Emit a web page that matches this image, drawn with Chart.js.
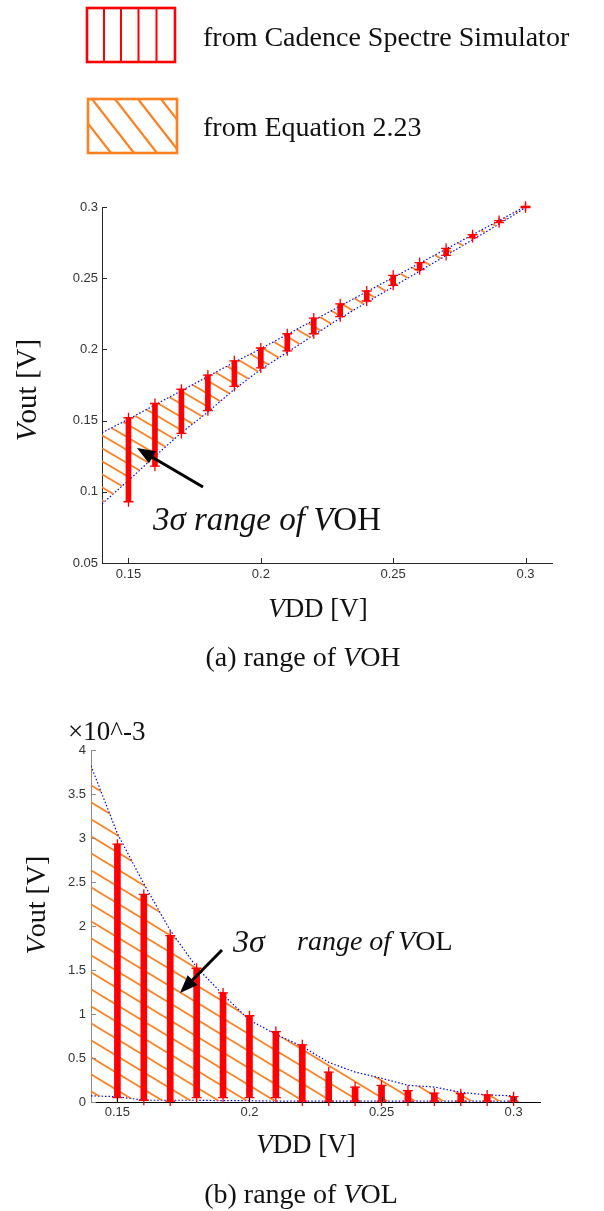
<!DOCTYPE html>
<html>
<head>
<meta charset="utf-8">
<script src="https://cdn.jsdelivr.net/npm/chart.js@4.4.1/dist/chart.umd.min.js"></script>
<style>
  html, body { margin: 0; padding: 0; background: #fff; }
  body { width: 604px; height: 1211px; position: relative; overflow: hidden; }
  canvas { position: absolute; left: 0; }
  #cA { top: 180px; }
  #cB { top: 730px; }
  #over { position: absolute; left: 0; top: 0; pointer-events: none; }
  #over text { font-family: "Liberation Serif", "Times New Roman", serif; fill: #111; }
</style>
</head>
<body>
<canvas id="cA" width="604" height="440"></canvas>
<canvas id="cB" width="604" height="420"></canvas>

<svg id="over" width="604" height="1211" xmlns="http://www.w3.org/2000/svg">
  <defs>
    <clipPath id="legClip"><rect x="88" y="99" width="89" height="54"/></clipPath>
  </defs>
  <!-- legend -->
  <rect x="87" y="8" width="88" height="54" fill="none" stroke="#ff0000" stroke-width="2.6"/>
  <g stroke="#ff0000" stroke-width="2">
    <line x1="104" y1="8" x2="104" y2="62"/>
    <line x1="121" y1="8" x2="121" y2="62"/>
    <line x1="138.5" y1="8" x2="138.5" y2="62"/>
    <line x1="156.5" y1="8" x2="156.5" y2="62"/>
  </g>
  <g clip-path="url(#legClip)" stroke="#ff8020" stroke-width="2.2">
    <line x1="46" y1="99" x2="88" y2="153"/>
    <line x1="69" y1="99" x2="111" y2="153"/>
    <line x1="92" y1="99" x2="134" y2="153"/>
    <line x1="115" y1="99" x2="157" y2="153"/>
    <line x1="138" y1="99" x2="180" y2="153"/>
    <line x1="161" y1="99" x2="203" y2="153"/>
  </g>
  <rect x="88" y="99" width="89" height="54" fill="none" stroke="#ff8020" stroke-width="2.6"/>
  <text x="203" y="46" font-size="28">from Cadence Spectre Simulator</text>
  <text x="203" y="136" font-size="28">from Equation 2.23</text>

  <!-- chart (a) labels -->
  <text x="318" y="617" font-size="27" text-anchor="middle"><tspan font-style="italic">V</tspan>DD [V]</text>
  <text transform="translate(36,390) rotate(-90)" font-size="29" text-anchor="middle"><tspan font-style="italic">V</tspan>out [V]</text>
  <text x="303" y="666" font-size="28" text-anchor="middle">(a) range of <tspan font-style="italic">V</tspan>OH</text>
  <text x="153" y="530" font-size="33"><tspan font-style="italic">3σ range of V</tspan>OH</text>
  <g stroke="#000" stroke-width="3"><line x1="203" y1="487" x2="151" y2="456.5"/></g>
  <polygon points="137,448 156.1,451.2 148.9,463.2" fill="#000"/>

  <!-- chart (b) labels -->
  <text x="68" y="740" font-size="27">×10^-3</text>
  <text x="306" y="1153" font-size="27" text-anchor="middle"><tspan font-style="italic">V</tspan>DD [V]</text>
  <text transform="translate(45,905) rotate(-90)" font-size="28" text-anchor="middle"><tspan font-style="italic">V</tspan>out [V]</text>
  <text x="301" y="1203" font-size="28" text-anchor="middle">(b) range of <tspan font-style="italic">V</tspan>OL</text>
  <text x="233" y="952" font-size="32" font-style="italic">3σ</text>
  <text x="297" y="950" font-size="28"><tspan font-style="italic">range of V</tspan>OL</text>
  <g stroke="#000" stroke-width="3"><line x1="222" y1="950" x2="191" y2="981.5"/></g>
  <polygon points="180,993 187.6,975.2 197.6,985" fill="#000"/>
</svg>

<script>
// VDD values (V)
const vddSim = [0.15, 0.16, 0.17, 0.18, 0.19, 0.20, 0.21, 0.22, 0.23, 0.24, 0.25, 0.26, 0.27, 0.28, 0.29, 0.30];
const vddEq = [0.14, 0.15, 0.16, 0.17, 0.18, 0.19, 0.20, 0.21, 0.22, 0.23, 0.24, 0.25, 0.26, 0.27, 0.28, 0.29, 0.30];

// (a) VOH, V
const ohSimLow  = [0.093, 0.118, 0.141, 0.157, 0.174, 0.187, 0.199, 0.211, 0.223, 0.234, 0.245, 0.256, 0.266, 0.2785, 0.289, 0.2995];
const ohSimHigh = [0.152, 0.162, 0.172, 0.182, 0.192, 0.201, 0.211, 0.222, 0.232, 0.241, 0.252, 0.261, 0.271, 0.2805, 0.2905, 0.3005];
const ohEqUpper = [0.1415, 0.151, 0.161, 0.171, 0.181, 0.191, 0.2005, 0.2105, 0.2205, 0.2305, 0.2405, 0.2505, 0.2605, 0.2705, 0.2805, 0.2905, 0.3005];
const ohEqLower = [0.0915, 0.108, 0.125, 0.1415, 0.156, 0.172, 0.186, 0.198, 0.21, 0.222, 0.233, 0.244, 0.255, 0.266, 0.277, 0.288, 0.2995];

// (b) VOL, x10^-3 V
const olSimLow  = [0.05, 0.02, 0.01, 0.05, 0.05, 0.05, 0.05, 0.01, 0.01, 0.01, 0.01, 0.01, 0.01, 0.01, 0.01, 0.01];
const olSimHigh = [2.93, 2.36, 1.89, 1.52, 1.24, 0.98, 0.80, 0.65, 0.34, 0.17, 0.19, 0.13, 0.10, 0.095, 0.08, 0.06];
const olEqUpper = [3.82, 3.05, 2.48, 1.95, 1.53, 1.22, 0.93, 0.77, 0.63, 0.45, 0.34, 0.27, 0.19, 0.17, 0.11, 0.08, 0.07];
const olEqLower = [0.07, 0.06, 0.02, 0.02, 0.02, 0.015, 0.015, 0.01, 0.01, 0.01, 0.01, 0.01, 0.01, 0.01, 0.01, 0.01, 0.01];

// tick labels
const xTicks = [0.15, 0.2, 0.25, 0.3];
const yTicksA = [0.05, 0.1, 0.15, 0.2, 0.25, 0.3];
const yTicksB = [0, 0.5, 1, 1.5, 2, 2.5, 3, 3.5, 4];

const RED = "#ff0000";
const ORANGE = "#ff8020";
const BLUE = "#0000ff";

// diagonal hatch, lines going down to the right
function hatch(ctx, w, h) {
  const tile = document.createElement("canvas");
  tile.width = w;
  tile.height = h;
  const g = tile.getContext("2d");
  g.strokeStyle = ORANGE;
  g.lineWidth = 1.8;
  for (let k = -2; k <= 2; k++) {
    g.beginPath();
    g.moveTo(-w, k * h - h);
    g.lineTo(2 * w, k * h + 2 * h);
    g.stroke();
  }
  return ctx.createPattern(tile, "repeat");
}

const inwardTicks = {
  id: "inwardTicks",
  afterDraw(chart, args, opts) {
    const { ctx, chartArea: a, scales } = chart;
    ctx.save();
    ctx.lineWidth = 1;
    ctx.strokeStyle = opts.xColor;
    scales.x.ticks.forEach((t) => {
      const px = Math.round(scales.x.getPixelForValue(t.value)) + 0.5;
      ctx.beginPath();
      ctx.moveTo(px, a.bottom);
      ctx.lineTo(px, a.bottom - 5);
      ctx.stroke();
    });
    ctx.strokeStyle = opts.yColor;
    scales.y.ticks.forEach((t) => {
      const py = Math.round(scales.y.getPixelForValue(t.value)) + 0.5;
      ctx.beginPath();
      ctx.moveTo(a.left, py);
      ctx.lineTo(a.left + 5, py);
      ctx.stroke();
    });
    ctx.restore();
  },
};

function makeChart(id, cfg) {
  const canvas = document.getElementById(id);
  const ctx = canvas.getContext("2d");
  const pattern = hatch(ctx, cfg.tileW, cfg.tileH);

  const pts = (xs, ys) => xs.map((x, i) => ({ x: x, y: ys[i] }));
  const tickFont = { family: "'Liberation Sans', Arial, sans-serif", size: 13 };

  return new Chart(ctx, {
    type: "scatter",
    data: {
      datasets: [
        {
          type: "scatter",
          data: pts(vddSim, cfg.simLow).concat(pts(vddSim, cfg.simHigh)),
          pointStyle: "cross",
          pointRadius: 5,
          borderColor: RED,
          borderWidth: 1.3,
          clip: false,
          order: 0,
        },
        {
          type: "bar",
          data: vddSim.map((x, i) => ({ x: x, y: [cfg.simLow[i], cfg.simHigh[i]] })),
          backgroundColor: RED,
          borderWidth: 0,
          barThickness: cfg.barW,
          order: 1,
        },
        {
          type: "line",
          data: pts(vddEq, cfg.eqUpper),
          borderColor: BLUE,
          borderWidth: 1.2,
          borderDash: [1.5, 2],
          pointRadius: 0,
          backgroundColor: pattern,
          fill: "+1",
          tension: 0,
          order: 2,
        },
        {
          type: "line",
          data: pts(vddEq, cfg.eqLower),
          borderColor: BLUE,
          borderWidth: 1.2,
          borderDash: [1.5, 2],
          pointRadius: 0,
          fill: false,
          tension: 0,
          order: 3,
        },
      ],
    },
    options: {
      responsive: false,
      animation: false,
      devicePixelRatio: 1,
      layout: { padding: { top: cfg.padTop, right: cfg.padRight, left: 0, bottom: 0 } },
      plugins: {
        legend: { display: false },
        tooltip: { enabled: false },
        inwardTicks: { xColor: cfg.xAxisColor, yColor: cfg.yAxisColor },
      },
      scales: {
        x: {
          type: "linear",
          min: 0.14,
          max: 0.31,
          offset: false,
          grid: { display: false, drawTicks: false },
          border: { display: true, color: cfg.xAxisColor, width: 1 },
          afterFit: (s) => { s.height = cfg.xAxisH; },
          afterBuildTicks: (s) => { s.ticks = xTicks.map((v) => ({ value: v })); },
          ticks: {
            autoSkip: false,
            maxRotation: 0,
            padding: cfg.xPad,
            color: "#333",
            font: tickFont,
            callback: (v) => String(v),
          },
        },
        y: {
          type: "linear",
          min: cfg.yMin,
          max: cfg.yMax,
          grid: { display: false, drawTicks: false },
          border: { display: true, color: cfg.yAxisColor, width: 1 },
          afterFit: (s) => { s.width = cfg.yAxisW; },
          afterBuildTicks: (s) => { s.ticks = cfg.yTicks.map((v) => ({ value: v })); },
          ticks: {
            autoSkip: false,
            padding: cfg.yPad,
            color: "#333",
            font: tickFont,
            callback: (v) => String(v),
          },
        },
      },
    },
    plugins: [inwardTicks],
  });
}

makeChart("cA", {
  simLow: ohSimLow, simHigh: ohSimHigh, eqUpper: ohEqUpper, eqLower: ohEqLower,
  yMin: 0.05, yMax: 0.3, yTicks: yTicksA,
  tileW: 22, tileH: 13, barW: 5,
  padTop: 27, padRight: 52, xAxisH: 57, yAxisW: 102,
  xPad: 4, yPad: 4,
  xAxisColor: "#262626", yAxisColor: "#262626",
});

makeChart("cB", {
  simLow: olSimLow, simHigh: olSimHigh, eqUpper: olEqUpper, eqLower: olEqLower,
  yMin: 0, yMax: 4, yTicks: yTicksB,
  tileW: 28, tileH: 17, barW: 6,
  padTop: 20, padRight: 64, xAxisH: 48, yAxisW: 91,
  xPad: 3, yPad: 5,
  xAxisColor: "#000000", yAxisColor: "#8c8c8c",
});
</script>
</body>
</html>
